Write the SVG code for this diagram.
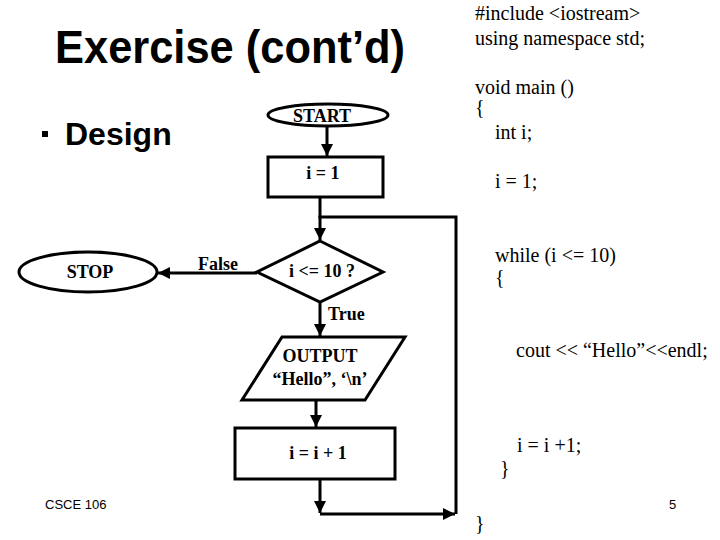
<svg xmlns="http://www.w3.org/2000/svg" width="720" height="540" viewBox="0 0 720 540">
<style>
.shape{fill:#fff;stroke:#000;stroke-width:3}
.conn{fill:none;stroke:#000;stroke-width:3}
.fc{font-family:"Liberation Serif","Times New Roman",serif;font-weight:bold;font-size:18px;fill:#000}
.code{font-family:"Liberation Serif","Times New Roman",serif;font-size:20px;fill:#000}
.sans{font-family:"Liberation Sans",Arial,sans-serif;fill:#000}
</style>
<defs>
<marker id="arr" markerUnits="userSpaceOnUse" markerWidth="14" markerHeight="12" refX="12" refY="6" orient="auto" viewBox="0 0 14 12">
<path d="M0,0 L12,6 L0,12 z" fill="#000"/>
</marker>
</defs>
<rect width="720" height="540" fill="#fff"/>
<g id="title">
<text class="sans" x="55" y="63" font-size="47" font-weight="bold" textLength="350" lengthAdjust="spacingAndGlyphs">Exercise (cont’d)</text>
<rect x="42" y="131" width="6" height="6" fill="#000"/>
<text class="sans" x="65" y="145" font-size="32" font-weight="bold">Design</text>
</g>
<g id="connectors">
<path class="conn" d="M327,126 L327,156" marker-end="url(#arr)"/>
<path class="conn" d="M320,197 L320,240" marker-end="url(#arr)"/>
<path class="conn" d="M257,273 L158,273" marker-end="url(#arr)"/>
<path class="conn" d="M320,302 L320,336" marker-end="url(#arr)"/>
<path class="conn" d="M316,400 L316,427" marker-end="url(#arr)"/>
<path class="conn" d="M320,479 L320,513" marker-end="url(#arr)"/>
<path class="conn" d="M320,514 L455,514" marker-end="url(#arr)"/>
<path class="conn" d="M456,514 L456,217 L318.5,217"/>
<text class="fc" x="218" y="270" text-anchor="middle">False</text>
<text class="fc" x="328" y="320">True</text>
</g>
<g id="start">
<ellipse class="shape" cx="328" cy="115" rx="60" ry="11"/>
<text class="fc" x="322" y="122" text-anchor="middle">START</text>
</g>
<g id="init">
<rect class="shape" x="268" y="157" width="115" height="40"/>
<text class="fc" x="323" y="179" text-anchor="middle">i = 1</text>
</g>
<g id="decision">
<polygon class="shape" points="320,241 383,272 320,302 257,272"/>
<text class="fc" x="322" y="277" text-anchor="middle">i &lt;= 10 ?</text>
</g>
<g id="stop">
<ellipse class="shape" cx="88" cy="272" rx="69" ry="20"/>
<text class="fc" x="90" y="278" text-anchor="middle">STOP</text>
</g>
<g id="output">
<polygon class="shape" points="282,337 405,337 365,400 242,400"/>
<text class="fc" x="320" y="362" text-anchor="middle">OUTPUT</text>
<text class="fc" x="320" y="385" text-anchor="middle">“Hello”, ‘\n’</text>
</g>
<g id="increment">
<rect class="shape" x="235" y="428" width="160" height="51"/>
<text class="fc" x="318" y="459" text-anchor="middle">i = i + 1</text>
</g>
<g id="code">
<text class="code" x="475" y="20">#include &lt;iostream&gt;</text>
<text class="code" x="475" y="45">using namespace std;</text>
<text class="code" x="475" y="94">void main ()</text>
<text class="code" x="475" y="114">{</text>
<text class="code" x="495" y="139">int i;</text>
<text class="code" x="495" y="188">i = 1;</text>
<text class="code" x="495" y="262">while (i &lt;= 10)</text>
<text class="code" x="495" y="284">{</text>
<text class="code" x="516" y="357">cout &lt;&lt; “Hello”&lt;&lt;endl;</text>
<text class="code" x="517" y="452">i = i +1;</text>
<text class="code" x="500" y="475">}</text>
<text class="code" x="475" y="530">}</text>
</g>
<g id="footer">
<text class="sans" x="45" y="509" font-size="13">CSCE 106</text>
<text class="sans" x="669" y="509" font-size="13">5</text>
</g>
</svg>
